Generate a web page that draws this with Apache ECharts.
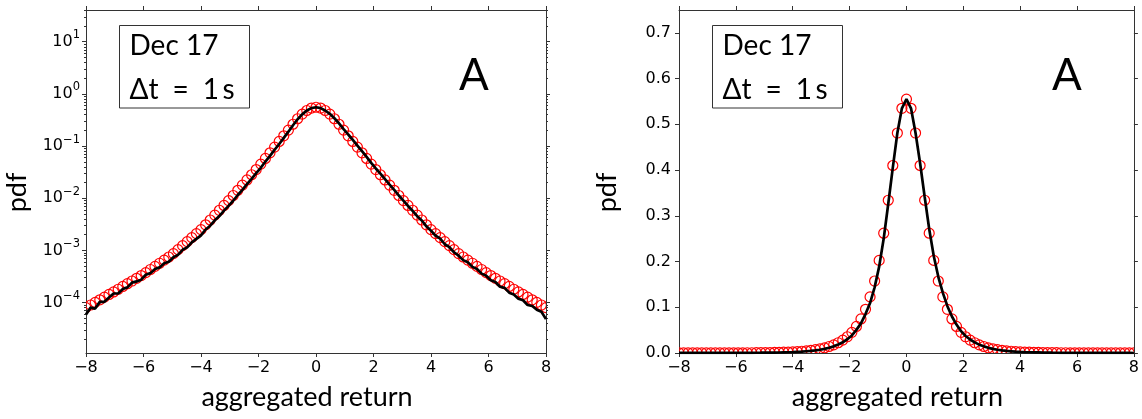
<!DOCTYPE html>
<html>
<head>
<meta charset="utf-8">
<script src="https://cdn.jsdelivr.net/npm/echarts@6/dist/echarts.min.js"></script>
<style>
html,body{margin:0;padding:0;background:#fff;}
#chart{width:1142px;height:419px;}
</style>
</head>
<body>
<div id="chart"></div>
<script>
// aggregated return grid (x positions of the marks)
const returnX = [-8, -7.84, -7.68, -7.52, -7.36, -7.2, -7.04, -6.88, -6.72, -6.56, -6.4, -6.24, -6.08, -5.92, -5.76, -5.6, -5.44, -5.28, -5.12, -4.96, -4.8, -4.64, -4.48, -4.32, -4.16, -4, -3.84, -3.68, -3.52, -3.36, -3.2, -3.04, -2.88, -2.72, -2.56, -2.4, -2.24, -2.08, -1.92, -1.76, -1.6, -1.44, -1.28, -1.12, -0.96, -0.8, -0.64, -0.48, -0.32, -0.16, 0,
  0.16, 0.32, 0.48, 0.64, 0.8, 0.96, 1.12, 1.28, 1.44, 1.6, 1.76, 1.92, 2.08, 2.24, 2.4, 2.56, 2.72, 2.88, 3.04, 3.2, 3.36, 3.52, 3.68, 3.84, 4, 4.16, 4.32, 4.48, 4.64, 4.8, 4.96, 5.12, 5.28, 5.44, 5.6, 5.76, 5.92, 6.08, 6.24, 6.4, 6.56, 6.72, 6.88, 7.04, 7.2, 7.36, 7.52, 7.68, 7.84, 8];

// red open circles (model pdf)
const modelPdf = [8.00e-5, 8.98e-5, 1.01e-4, 1.13e-4, 1.27e-4, 1.43e-4, 1.60e-4, 1.80e-4, 2.04e-4, 2.30e-4, 2.59e-4, 2.92e-4, 3.30e-4, 3.75e-4, 4.31e-4, 4.94e-4, 5.68e-4, 6.52e-4, 7.48e-4, 8.68e-4, 1.035e-3, 1.234e-3, 1.473e-3, 1.757e-3, 2.096e-3, 2.50e-3, 3.10e-3, 3.83e-3, 4.75e-3, 5.88e-3, 7.28e-3, 9.01e-3, 0.01129, 0.0142, 0.01785, 0.02245, 0.0282, 0.0355, 0.0451, 0.058, 0.0744, 0.0955, 0.1227, 0.1574, 0.2025, 0.262, 0.334, 0.41, 0.481, 0.535,
  0.555,
  0.535, 0.481, 0.41, 0.334, 0.262, 0.2025, 0.1574, 0.1227, 0.0955, 0.0744, 0.058, 0.0451, 0.0355, 0.0282, 0.02245, 0.01785, 0.0142, 0.01129, 9.01e-3, 7.28e-3, 5.88e-3, 4.75e-3, 3.83e-3, 3.10e-3, 2.50e-3, 2.096e-3, 1.757e-3, 1.473e-3, 1.234e-3, 1.035e-3, 8.68e-4, 7.48e-4, 6.52e-4, 5.68e-4, 4.94e-4, 4.31e-4, 3.75e-4, 3.30e-4, 2.92e-4, 2.59e-4, 2.30e-4, 2.04e-4, 1.80e-4, 1.60e-4, 1.43e-4, 1.27e-4, 1.13e-4, 1.01e-4, 8.98e-5, 8.00e-5];

// black line (empirical pdf)
const dataPdf = [5.93e-5, 8.0e-5, 7.67e-5, 1.031e-4, 1.033e-4, 1.245e-4, 1.493e-4, 1.498e-4, 1.818e-4, 1.957e-4, 2.416e-4, 2.543e-4, 2.746e-4, 3.42e-4, 3.668e-4, 4.40e-4, 4.726e-4, 5.679e-4, 6.081e-4, 7.387e-4, 8.218e-4, 1.0267e-3, 1.143e-3, 1.4284e-3, 1.664e-3, 1.94e-3, 2.52e-3, 2.972e-3, 3.772e-3, 4.563e-3, 5.78e-3, 7.154e-3, 8.964e-3, 0.011545, 0.014512, 0.018678, 0.023462, 0.03021, 0.03838, 0.05052, 0.0648, 0.0851, 0.1093, 0.1435, 0.1889, 0.2502, 0.3263, 0.4053, 0.481, 0.535,
  0.555,
  0.535, 0.481, 0.4148, 0.3417, 0.2712, 0.212, 0.1667, 0.1315, 0.1024, 0.07976, 0.06218, 0.04776, 0.03717, 0.02953, 0.02324, 0.01826, 0.01453, 0.01129, 0.00901, 0.007113, 0.005745, 0.004536, 0.003742, 0.002892, 0.002388, 0.001912, 0.001678, 0.001312, 0.001151, 0.000922, 0.000792, 0.000651, 0.000595, 0.000483, 0.00044, 0.000359, 0.000327, 0.000268, 0.000248, 0.000201, 0.000191, 0.000155, 0.000143, 0.000119, 0.000111, 0.0000899, 0.0000858, 0.0000731, 0.0000665, 0.0000482];

// tick labels
const xTicks = [-8, -6, -4, -2, 0, 2, 4, 6, 8];
const logMajorTicks = [1e-4, 1e-3, 1e-2, 1e-1, 1, 10];
const logMinorMultipliers = [2, 3, 4, 5, 6, 7, 8, 9];
const logDecades = [1e-5, 1e-4, 1e-3, 1e-2, 1e-1, 1, 10];
const linTicks = [0, 0.1, 0.2, 0.3, 0.4, 0.5, 0.6, 0.7];
const boxLine1 = 'Dec 17';
const boxLine2 = 'Δt\u2002=\u20021\u2009s';
const panelTag = 'A';
const xName = 'aggregated return';
const yName = 'pdf';

const logMin = 1.08e-5, logMax = 40.6;
const logMinorTicks = [];
logDecades.forEach(d => logMinorMultipliers.forEach(m => {
  const v = m * d;
  if (v >= logMin && v <= logMax) logMinorTicks.push(v);
}));

const circlePoints = returnX.map((x, i) => [x, modelPdf[i]]);
const linePoints = returnX.map((x, i) => [x, dataPdf[i]]);

const AX = '#333';
const TICKFONT = 'DejaVu Sans';
const LABELFONT = 'Lato';

function minusFmt(v) { return v < 0 ? '\u2212' + (-v) : '' + v; }
function logFmt(v) {
  const e = Math.round(Math.log10(v));
  const s = e < 0 ? '\u2212' + (-e) : '' + e;
  return '{b|10}{s|' + s + '}';
}

function xAxisDef(gridIndex, pos) {
  const bottom = pos === 'bottom';
  return {
    gridIndex, type: 'value', position: pos, min: -8, max: 8, interval: 2,
    axisLine: { show: true, onZero: false, lineStyle: { color: AX, width: 1 } },
    axisTick: { show: true, inside: false, length: 4, lineStyle: { color: AX, width: 1 } },
    axisLabel: { show: bottom, margin: 7, fontFamily: TICKFONT, fontSize: 16, color: '#000', formatter: minusFmt },
    splitLine: { show: false },
    name: bottom ? xName : '', nameLocation: 'middle', nameGap: 31,
    nameTextStyle: { fontFamily: LABELFONT, fontSize: 27, color: '#000', padding: [0, 18, 0, 0] }
  };
}

function logAxisDef(pos, minor, labelled) {
  return {
    gridIndex: 0, type: 'log', position: pos, min: logMin, max: logMax,
    axisLine: { show: !minor, onZero: false, lineStyle: { color: AX, width: 1 } },
    axisTick: { show: true, inside: false, length: minor ? 2 : 4, customValues: minor ? logMinorTicks : logMajorTicks, lineStyle: { color: AX, width: 1 } },
    axisLabel: {
      show: labelled, customValues: logMajorTicks, margin: 6, formatter: logFmt, color: '#000',
      rich: {
        b: { fontFamily: TICKFONT, fontSize: 16, lineHeight: 25, color: '#000' },
        s: { fontFamily: TICKFONT, fontSize: 11.5, lineHeight: 11, verticalAlign: 'top', color: '#000' }
      }
    },
    splitLine: { show: false }, minorTick: { show: false },
    name: labelled ? yName : '', nameLocation: 'middle', nameRotate: 90, nameGap: 55,
    nameTextStyle: { fontFamily: LABELFONT, fontSize: 27, color: '#000', padding: [0, 22, 0, 0] }
  };
}

function linAxisDef(pos, labelled) {
  return {
    gridIndex: 1, type: 'value', position: pos, min: 0, max: 0.75,
    axisLine: { show: true, onZero: false, lineStyle: { color: AX, width: 1 } },
    axisTick: { show: true, inside: false, length: 4, customValues: linTicks, lineStyle: { color: AX, width: 1 } },
    axisLabel: { show: labelled, customValues: linTicks, margin: 8, fontFamily: TICKFONT, fontSize: 16, color: '#000', formatter: v => v.toFixed(1) },
    splitLine: { show: false },
    name: labelled ? yName : '', nameLocation: 'middle', nameRotate: 90, nameGap: 58,
    nameTextStyle: { fontFamily: LABELFONT, fontSize: 27, color: '#000', padding: [0, 22, 0, 0] }
  };
}

function circleSeries(xi, yi) {
  return {
    type: 'custom', xAxisIndex: xi, yAxisIndex: yi, clip: true, z: 2,
    data: circlePoints,
    encode: { x: 0, y: 1 },
    renderItem: function (params, api) {
      const p = api.coord([api.value(0), api.value(1)]);
      return { type: 'circle', shape: { cx: p[0], cy: p[1], r: 5 }, style: { fill: 'none', stroke: '#ff0000', lineWidth: 1.2 } };
    }
  };
}
function lineSeries(xi, yi) {
  return {
    type: 'line', xAxisIndex: xi, yAxisIndex: yi, clip: true, z: 3,
    data: linePoints, showSymbol: false, symbol: 'none',
    lineStyle: { color: '#000', width: 2.7 }
  };
}

function boxGraphics(left, textLeft, tagX) {
  return [
    { type: 'rect', shape: { x: left, y: 25.5, width: 130, height: 82.5 }, style: { fill: '#fff', stroke: AX, lineWidth: 1 }, z: 10 },
    { type: 'text', x: textLeft, y: 46, style: { text: boxLine1, font: '28px Lato', fill: '#000', verticalAlign: 'middle', align: 'left' }, z: 11 },
    { type: 'text', x: textLeft, y: 89.5, style: { text: boxLine2, font: '28px Lato', fill: '#000', verticalAlign: 'middle', align: 'left' }, z: 11 },
    { type: 'text', x: tagX, y: 75.5, style: { text: panelTag, font: '44px Lato', fill: '#000', verticalAlign: 'middle', align: 'center' }, z: 11 }
  ];
}

const option = {
  animation: false,
  backgroundColor: '#fff',
  grid: [
    { left: 86, top: 10, width: 460, height: 343 },
    { left: 679, top: 10, width: 460, height: 343 }
  ],
  xAxis: [xAxisDef(0, 'bottom'), xAxisDef(0, 'top'), xAxisDef(1, 'bottom'), xAxisDef(1, 'top')],
  yAxis: [
    logAxisDef('left', false, true),
    logAxisDef('left', true, false),
    logAxisDef('right', false, false),
    logAxisDef('right', true, false),
    linAxisDef('left', true),
    linAxisDef('right', false)
  ],
  series: [
    circleSeries(0, 0), lineSeries(0, 0),
    circleSeries(2, 4), lineSeries(2, 4)
  ],
  graphic: boxGraphics(119.5, 129.5, 474).concat(boxGraphics(712.5, 722.5, 1067))
};

const chart = echarts.init(document.getElementById('chart'), null, { renderer: 'canvas' });
chart.setOption(option);
</script>
</body>
</html>
